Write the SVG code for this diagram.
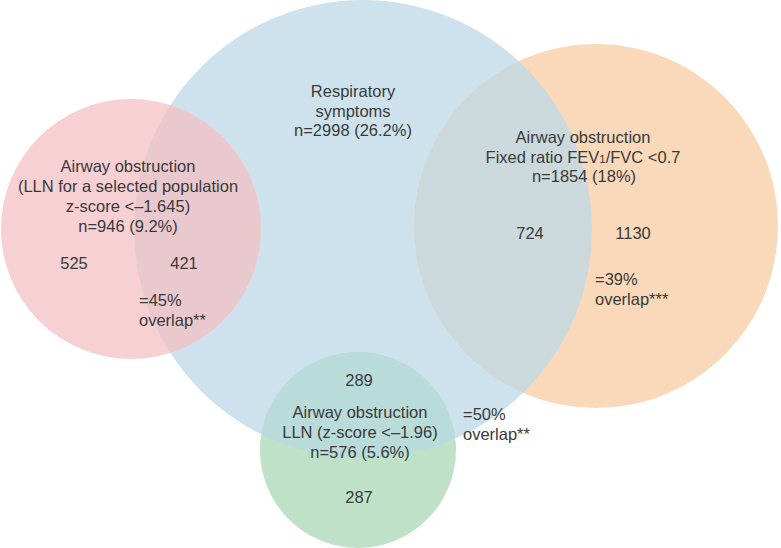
<svg xmlns="http://www.w3.org/2000/svg" width="781" height="548" viewBox="0 0 781 548">
<style>
text{font-family:"Liberation Sans",Arial,sans-serif;font-size:16.5px;fill:#3a3a3a}
.c{text-anchor:middle}
</style>
<defs>
<clipPath id="clipBlue"><circle cx="363" cy="229" r="229"/></clipPath>
</defs>
<rect width="781" height="548" fill="#ffffff"/>
<g id="node-respiratory">
<circle cx="363" cy="229" r="229" fill="#cee2ed"/>
<text class="c" x="353" y="97">Respiratory</text>
<text class="c" x="353" y="116.5">symptoms</text>
<text class="c" x="353" y="136">n=2998 (26.2%)</text>
</g>
<g id="node-fixed-ratio">
<circle cx="596" cy="226" r="182" fill="#f9d9b9"/>
<circle cx="596" cy="226" r="182" fill="#cbd9dd" clip-path="url(#clipBlue)"/>
<text class="c" x="583" y="143">Airway obstruction</text>
<text class="c" x="583" y="162.5">Fixed ratio FEV<tspan font-size="11.5">1</tspan>/FVC &lt;0.7</text>
<text class="c" x="584" y="182">n=1854 (18%)</text>
<text class="c" x="530" y="239">724</text>
<text class="c" x="633" y="239">1130</text>
<text x="595" y="285">=39%</text>
<text x="595" y="304.5">overlap***</text>
</g>
<g id="node-lln-selected">
<circle cx="131" cy="229" r="130" fill="#f6d0d3"/>
<circle cx="131" cy="229" r="130" fill="#e9c9ce" clip-path="url(#clipBlue)"/>
<text class="c" x="128" y="172">Airway obstruction</text>
<text class="c" x="128" y="192">(LLN for a selected population</text>
<text class="c" x="128" y="212">z-score &lt;–1.645)</text>
<text class="c" x="128" y="231.5">n=946 (9.2%)</text>
<text class="c" x="74" y="269">525</text>
<text class="c" x="184" y="269">421</text>
<text x="139" y="306">=45%</text>
<text x="139" y="325.5">overlap**</text>
</g>
<g id="node-lln">
<circle cx="358" cy="450" r="98" fill="#bfe1c8"/>
<circle cx="358" cy="450" r="98" fill="#b9dbd9" clip-path="url(#clipBlue)"/>
<text class="c" x="359" y="386">289</text>
<text class="c" x="360" y="418">Airway obstruction</text>
<text class="c" x="360" y="438">LLN (z-score &lt;–1.96)</text>
<text class="c" x="360" y="457.5">n=576 (5.6%)</text>
<text class="c" x="359" y="503">287</text>
</g>
<g id="overlap-label">
<text x="463" y="420">=50%</text>
<text x="463" y="439.5">overlap**</text>
</g>
</svg>
